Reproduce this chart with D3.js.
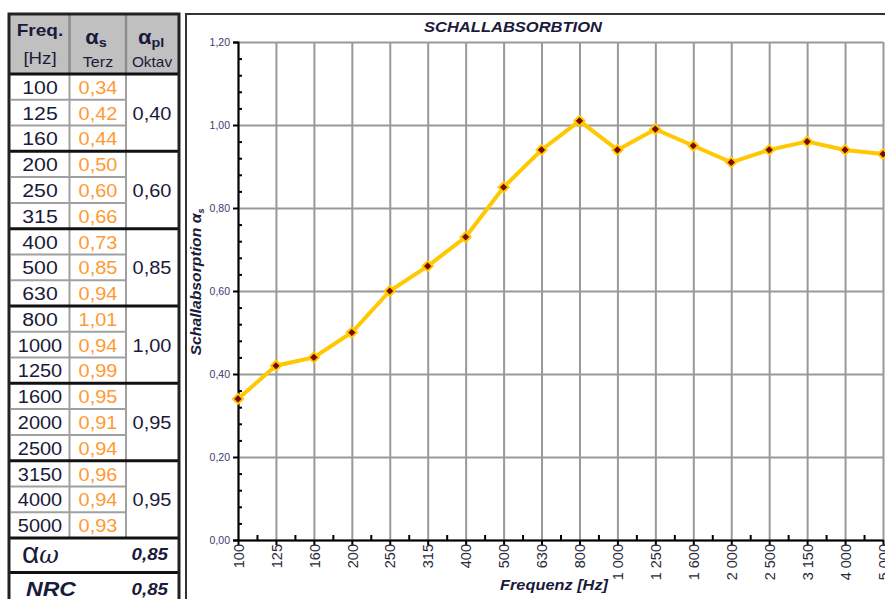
<!DOCTYPE html>
<html lang="de">
<head>
<meta charset="UTF-8"/>
<title>Schallabsorption</title>
<script src="https://d3js.org/d3.v7.min.js"></script>
<style>
  body { margin: 0; background: #fff; }
  svg { display: block; font-family: "Liberation Sans", Arial, sans-serif; }
  .grid line { stroke: #999; stroke-width: 2; }
  .grid path { display: none; }
  .axis path, .axis line { stroke: #000; stroke-width: 2; }
  .ylab text { font-size: 10.5px; fill: #3a3a70; }
  .xlab text { font-size: 14.5px; fill: #2a2a3a; }
</style>
</head>
<body>
<script>

// data
var freqs = ["100","125","160","200","250","315","400","500","630","800",
             "1000","1250","1600","2000","2500","3150","4000","5000"];
var alphaS = [0.34,0.42,0.44,0.50,0.60,0.66,0.73,0.85,0.94,1.01,
              0.94,0.99,0.95,0.91,0.94,0.96,0.94,0.93];
var alphaOct = [0.40,0.60,0.85,1.00,0.95,0.95];
var alphaW = 0.85;
var nrc = 0.85;
var yTicks = [0,0.2,0.4,0.6,0.8,1.0,1.2];

var de = d3.formatLocale({decimal: ",", thousands: " ", grouping: [3], currency: ["", " €"]});
var f2 = de.format(".2f");
var fThousand = de.format(",");

var svg = d3.select("body").append("svg")
    .attr("width", 885)
    .attr("height", 599);

// text a bit wider than normal, like the original
function label(g, x, y, str, size, opts) {
  opts = opts || {};
  var t = g.append("text")
      .attr("transform", "translate(" + x + "," + y + ") scale(" + (opts.sx || 1.15) + ",1)")
      .attr("text-anchor", opts.anchor || "middle")
      .attr("font-size", size)
      .attr("fill", opts.fill || "#1a1a3a");
  if (opts.bold) t.attr("font-weight", "bold");
  if (opts.italic) t.attr("font-style", "italic");
  if (str !== null) t.text(str);
  return t;
}

// ---------- table on the left ----------
var tbl = svg.append("g");
var tx0 = 9, tx1 = 179, c1 = 69.5, c2 = 126;
var rowY = d3.scaleLinear().domain([0, 18]).range([74, 538]);

// header background
tbl.append("rect").attr("x", tx0).attr("y", 14).attr("width", tx1 - tx0).attr("height", 60)
    .attr("fill", "#c0c0c0");
tbl.selectAll(".hdiv").data([c1, c2]).enter().append("line")
    .attr("x1", d => d).attr("x2", d => d).attr("y1", 14).attr("y2", 74)
    .attr("stroke", "#8c8c8c").attr("stroke-width", 2.5);

// row lines (grey) inside groups
tbl.selectAll(".rline").data(d3.range(18).filter(i => i % 3 !== 0)).enter().append("line")
    .attr("x1", tx0 + 2).attr("x2", c2)
    .attr("y1", i => rowY(i)).attr("y2", i => rowY(i))
    .attr("stroke", "#a0a0a0").attr("stroke-width", 2);
// column dividers in body
tbl.selectAll(".cdiv").data([c1, c2]).enter().append("line")
    .attr("x1", d => d).attr("x2", d => d).attr("y1", 74).attr("y2", rowY(18))
    .attr("stroke", "#a0a0a0").attr("stroke-width", 2);

// group separators (black)
tbl.selectAll(".gline").data(d3.range(0, 19, 3)).enter().append("line")
    .attr("x1", tx0).attr("x2", tx1)
    .attr("y1", i => rowY(i)).attr("y2", i => rowY(i))
    .attr("stroke", "#111").attr("stroke-width", 3);
tbl.append("line").attr("x1", tx0).attr("x2", tx1).attr("y1", 572.5).attr("y2", 572.5)
    .attr("stroke", "#111").attr("stroke-width", 3);

// outer border
tbl.append("rect").attr("x", tx0).attr("y", 14).attr("width", tx1 - tx0).attr("height", 620)
    .attr("fill", "none").attr("stroke", "#222").attr("stroke-width", 3);

// header text
label(tbl, 40, 36, "Freq.", 17, {bold: true, sx: 1.12});
label(tbl, 40, 64, "[Hz]", 17, {sx: 1.1});

var h2 = label(tbl, 96, 44, null, 20, {bold: true, sx: 1.1});
h2.append("tspan").text("α");
h2.append("tspan").attr("font-size", 13).attr("dy", 3).text("s");
label(tbl, 98, 67, "Terz", 14, {sx: 1.15});

var h3 = label(tbl, 151, 44, null, 20, {bold: true, sx: 1.1});
h3.append("tspan").text("α");
h3.append("tspan").attr("font-size", 13).attr("dy", 3).text("pl");
label(tbl, 152, 67, "Oktav", 14, {sx: 1.1});

// body text
freqs.forEach(function(d, i) {
  label(tbl, 40, rowY(i + 0.5) + 7, d, 19, {sx: d.length > 3 ? 1.05 : 1.12});
});
alphaS.forEach(function(d, i) {
  label(tbl, 98, rowY(i + 0.5) + 7, f2(d), 19, {fill: "#ff9a33", sx: 1.05});
});
alphaOct.forEach(function(d, i) {
  label(tbl, 152, rowY(i * 3 + 1.5) + 7, f2(d), 19, {sx: 1.05});
});

// alpha w row
var aw = tbl.append("text").attr("x", 22).attr("y", 563).attr("fill", "#1a1a3a");
aw.append("tspan").attr("font-size", 30).text("α");
aw.append("tspan").attr("font-size", 24).attr("font-family", "DejaVu Serif")
    .attr("font-style", "italic").text("ω");
label(tbl, 168, 560, f2(alphaW), 17, {anchor: "end", bold: true, italic: true, sx: 1.1});
label(tbl, 26, 596, "NRC", 21, {anchor: "start", bold: true, italic: true, sx: 1.1});
label(tbl, 168, 595, f2(nrc), 17, {anchor: "end", bold: true, italic: true, sx: 1.1});

// ---------- chart panel ----------
svg.append("rect").attr("x", 186).attr("y", 14).attr("width", 760).attr("height", 650)
    .attr("fill", "#fff").attr("stroke", "#333").attr("stroke-width", 2);

var x = d3.scalePoint().domain(freqs).range([238, 883]);
var xi = d3.scaleLinear().domain([0, freqs.length - 1]).range([238, 883]);
var y = d3.scaleLinear().domain([0, 1.2]).range([540, 42]);

// grid
svg.append("g").attr("class", "grid")
    .attr("transform", "translate(0,540)")
    .call(d3.axisBottom(x).tickSize(-498).tickFormat(""));
svg.append("g").attr("class", "grid")
    .attr("transform", "translate(238,0)")
    .call(d3.axisLeft(y).tickValues(yTicks).tickSize(-645).tickFormat(""));

// y axis
svg.append("g").attr("class", "axis ylab")
    .attr("transform", "translate(238,0)")
    .call(d3.axisLeft(y).tickValues(yTicks).tickSize(5).tickPadding(3).tickFormat(f2));
svg.append("g").attr("class", "axis")
    .attr("transform", "translate(238,0)")
    .call(d3.axisRight(y).tickValues(d3.range(0, 31).filter(i => i % 5 !== 0).map(i => i * 0.04))
        .tickSize(4).tickFormat(""))
    .select(".domain").remove();

// x axis
var xa = svg.append("g").attr("class", "axis xlab")
    .attr("transform", "translate(0,540)")
    .call(d3.axisBottom(x).tickSize(5).tickSizeOuter(0).tickFormat(d => fThousand(+d)));
xa.selectAll("text")
    .attr("transform", "rotate(-90)")
    .attr("x", -4).attr("y", 0).attr("dy", "0.36em")
    .attr("text-anchor", "end");
svg.append("g").attr("class", "axis")
    .attr("transform", "translate(0,540)")
    .call(d3.axisTop(xi).tickValues(d3.range(freqs.length - 1).map(i => i + 0.5))
        .tickSize(5).tickFormat(""))
    .select(".domain").remove();

// line + markers
var line = d3.line()
    .x((d, i) => x(freqs[i]))
    .y(d => y(d));
svg.append("path").datum(alphaS)
    .attr("d", line)
    .attr("fill", "none")
    .attr("stroke", "#ffc800")
    .attr("stroke-width", 4);
svg.selectAll(".pt").data(alphaS).enter().append("path")
    .attr("d", d3.symbol().type(d3.symbolDiamond2).size(64))
    .attr("transform", (d, i) => "translate(" + x(freqs[i]) + "," + y(d) + ")")
    .attr("fill", "#7a0a00")
    .attr("stroke", "#ffc800")
    .attr("stroke-width", 2);

// titles
svg.append("text").attr("x", 513).attr("y", 32).attr("text-anchor", "middle")
    .attr("font-size", 15.5).attr("font-weight", "bold").attr("font-style", "italic")
    .attr("textLength", 178).attr("lengthAdjust", "spacingAndGlyphs")
    .attr("fill", "#1a1a3a").text("SCHALLABSORBTION");
svg.append("text").attr("x", 554).attr("y", 590).attr("text-anchor", "middle")
    .attr("font-size", 15).attr("font-weight", "bold").attr("font-style", "italic")
    .attr("textLength", 108).attr("lengthAdjust", "spacingAndGlyphs")
    .attr("fill", "#1a1a3a").text("Frequenz [Hz]");
var yl = svg.append("text")
    .attr("transform", "translate(201,282) rotate(-90)")
    .attr("text-anchor", "middle")
    .attr("font-size", 14).attr("font-weight", "bold").attr("font-style", "italic")
    .attr("fill", "#1a1a3a");
yl.append("tspan").attr("textLength", 142).attr("lengthAdjust", "spacingAndGlyphs")
    .text("Schallabsorption α");
yl.append("tspan").attr("font-size", 9).attr("dy", 3).text("s");

</script>
</body>
</html>
